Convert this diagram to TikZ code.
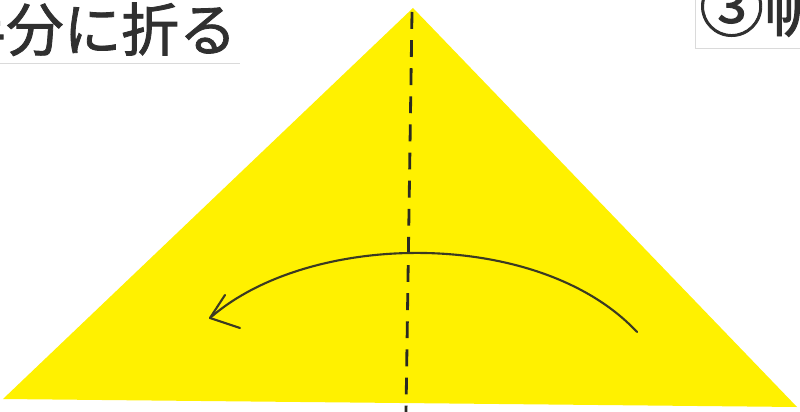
\documentclass[tikz,border=0pt]{standalone}
\usepackage{fontspec}
\newfontfamily\jpfont[FakeBold=1.4]{Noto Sans CJK JP}
\usepackage{xcolor}
\usepackage{tikz}
\usetikzlibrary{arrows.meta}
\definecolor{orjaune}{HTML}{FFF100}
\definecolor{orcrayon}{HTML}{3B3A22}
\definecolor{ortrait}{HTML}{2A2A22}
\definecolor{ortexte}{HTML}{303030}
\definecolor{orcadre}{HTML}{DADADA}

\begin{document}
\begin{tikzpicture}[x=0.025cm, y=-0.025cm, every node/.style={font=\jpfont, inner sep=0pt, text=ortexte}]
  \useasboundingbox (0,0) rectangle (800,412);
  \clip (0,0) rectangle (800,412);
  \fill[white] (0,0) rectangle (800,412);
  % feuille pliee en triangle
  \fill[orjaune] (413,8) -- (797,407) -- (3,399) -- cycle;
  % ligne de pli en tirets
  \draw[ortrait, line width=2pt, dash pattern=on 12pt off 8pt] (412,12) -- (406,412);
  % fleche de pliage (trait de crayon)
  \draw[orcrayon, line width=1.5pt, line cap=round] (637,332) .. controls (540,228) and (310,230) .. (210,318);
  \draw[orcrayon, line width=1.5pt, line cap=round, line join=round] (225,295) -- (210,318) -- (240,328);
  % titre a gauche
  \draw[orcadre, line width=0.6pt] (0,63) -- (240,63);
  \node[anchor=base east, font=\jpfont\fontsize{41}{41}\selectfont] (titre) at (237,51) {半分に折る};
  % etape suivante a droite
  \draw[orcadre, line width=0.6pt] (695,0) -- (695,48) -- (800,48);
  \node[anchor=base west, font=\jpfont\fontsize{46}{46}\selectfont] (etape) at (699,31) {③帆};
\end{tikzpicture}
\end{document}
